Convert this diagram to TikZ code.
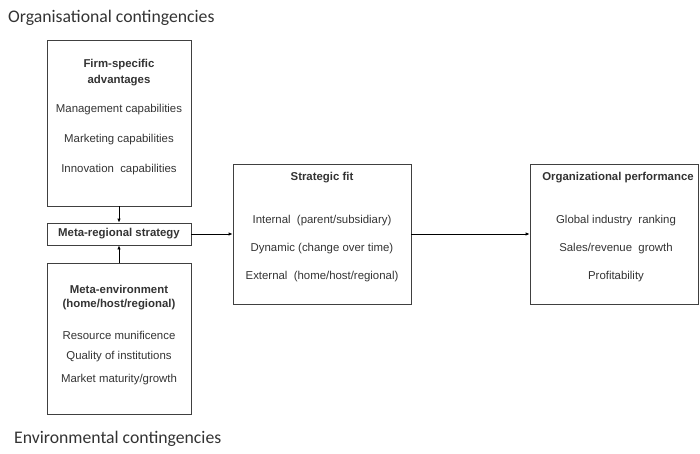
\documentclass[tikz,border=0pt]{standalone}
\usepackage{fontspec}
\setmainfont{Liberation Sans}
\newfontfamily\headfont{Carlito}
\usetikzlibrary{arrows.meta}
\definecolor{txt}{HTML}{333333}
\definecolor{ln}{HTML}{404040}
\begin{document}
\begin{tikzpicture}[x=1pt,y=-1pt,
  box/.style={draw=ln,line width=0.8pt,rectangle,inner sep=0pt},
  lbl/.style={text=txt,inner sep=0pt,font=\fontsize{11.4}{13}\selectfont},
  blbl/.style={lbl,font=\fontsize{11.4}{13}\selectfont\bfseries},
  head/.style={text=txt,inner sep=0pt,anchor=west,font=\headfont\fontsize{17.7}{19}\selectfont},
  arr/.style={draw=black,line width=0.8pt,-{Latex[length=4pt,width=3.5pt]}}]
\useasboundingbox (0,0) rectangle (700,454);
\node[head] (h1) at (8,18) {Organisational contingencies};
\node[head] (h2) at (14,439) {Environmental contingencies};
% boxes
\node[box,minimum width=144pt,minimum height=166pt] (fsa) at (119,123) {};
\node[box,minimum width=144pt,minimum height=22pt] (mrs) at (119,234) {};
\node[box,minimum width=144pt,minimum height=151pt] (me) at (119,338.5) {};
\node[box,minimum width=178pt,minimum height=140pt] (sf) at (322,234) {};
\node[box,minimum width=168pt,minimum height=140pt] (op) at (614,234) {};
% FSA text
\node[blbl] (f1) at (119,65) {Firm-specific};
\node[blbl] (f2) at (119,81) {advantages};
\node[lbl] (f3) at (119,110) {Management capabilities};
\node[lbl] (f4) at (119,140) {Marketing capabilities};
\node[lbl] (f5) at (119,170) {Innovation\ \ capabilities};
% MRS
\node[blbl] (m1) at (119,234) {Meta-regional strategy};
% ME
\node[blbl] (e1) at (119,289) {Meta-environment};
\node[blbl] (e2) at (119,305) {(home/host/regional)};
\node[lbl] (e3) at (119,335) {Resource munificence};
\node[lbl] (e4) at (119,357) {Quality of institutions};
\node[lbl] (e5) at (119,380) {Market maturity/growth};
% SF
\node[blbl] (s1) at (322,178) {Strategic fit};
\node[lbl] (s2) at (322,221) {Internal\ \ (parent/subsidiary)};
\node[lbl] (s3) at (322,249) {Dynamic (change over time)};
\node[lbl] (s4) at (322,277) {External\ \ (home/host/regional)};
% OP
\node[blbl] (o1) at (618,178) {Organizational performance};
\node[lbl] (o2) at (616,221) {Global industry\ \ ranking};
\node[lbl] (o3) at (616,249) {Sales/revenue\ \ growth};
\node[lbl] (o4) at (616,277) {Profitability};
% arrows
\draw[arr] (fsa.south) -- (mrs.north);
\draw[arr] (me.north) -- (mrs.south);
\draw[arr] (mrs.east) -- (sf.west);
\draw[arr] (sf.east) -- (op.west);
\end{tikzpicture}
\end{document}
